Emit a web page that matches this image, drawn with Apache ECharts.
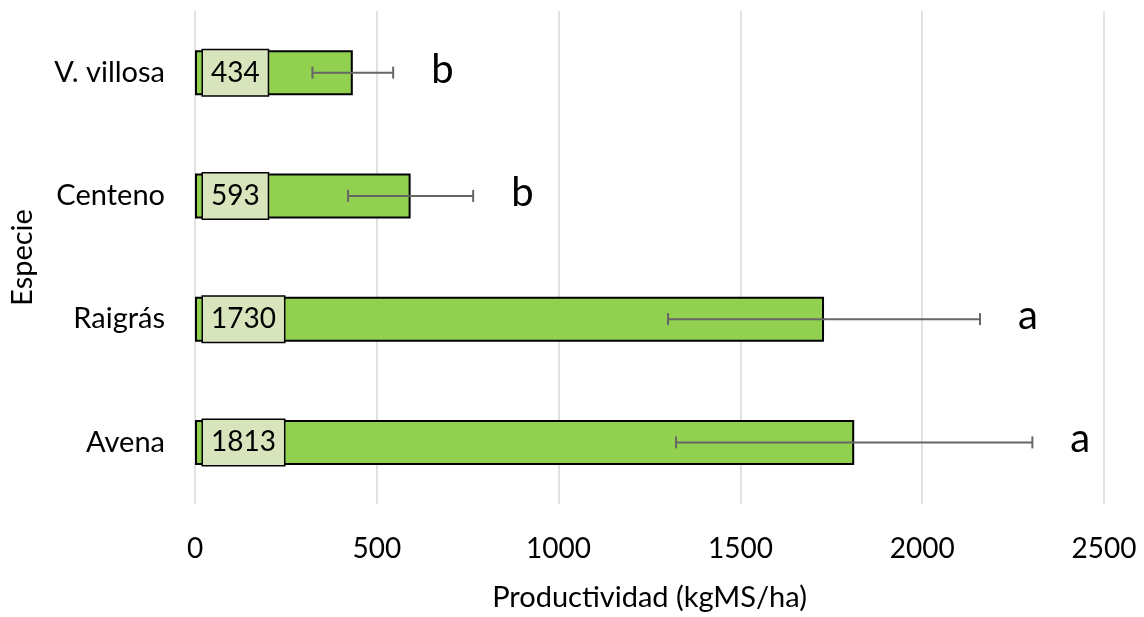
<!DOCTYPE html>
<html><head><meta charset="utf-8">
<script src="https://cdn.jsdelivr.net/npm/echarts@6/dist/echarts.min.js"></script>
<style>html,body{margin:0;padding:0;background:#fff}#c{width:1144px;height:617px}</style>
</head><body><div id="c"></div>
<script>
const categories = ['Avena', 'Raigrás', 'Centeno', 'V. villosa'];
const values = [1813, 1730, 593, 434];
const errors = [490, 429, 172, 111];
const letters = ['a', 'a', 'b', 'b'];
const xTicks = [0, 500, 1000, 1500, 2000, 2500];

const FONT = 'Lato';
const chart = echarts.init(document.getElementById('c'), null, {renderer: 'canvas'});
chart.setOption({
  animation: false,
  textStyle: {fontFamily: FONT},
  grid: {left: 192, right: 40, top: 11, bottom: 103, containLabel: false},
  xAxis: {
    type: 'value', min: xTicks[0], max: xTicks[xTicks.length - 1], interval: 500,
    name: 'Productividad (kgMS/ha)', nameLocation: 'middle', nameGap: 79,
    nameTextStyle: {fontSize: 29, color: '#000', fontFamily: FONT},
    axisLine: {show: false}, axisTick: {show: false},
    axisLabel: {fontSize: 28, color: '#000', margin: 31, fontFamily: FONT,
                formatter: function (v) { return String(v); }},
    splitLine: {show: true, lineStyle: {color: '#d9d9d9', width: 1.5}}
  },
  yAxis: {
    type: 'category', data: categories,
    name: 'Especie', nameLocation: 'middle', nameGap: 158,
    nameTextStyle: {fontSize: 29, color: '#000', fontFamily: FONT},
    axisLine: {show: false}, axisTick: {show: false},
    axisLabel: {fontSize: 29, color: '#000', margin: 30, fontFamily: FONT}
  },
  series: [
    {
      type: 'bar', data: values, barWidth: 45,
      itemStyle: {color: '#92D050', borderColor: '#000', borderWidth: 2},
      label: {
        show: true, position: 'insideLeft', distance: 8,
        fontSize: 28, color: '#000', fontFamily: FONT, lineHeight: 29,
        backgroundColor: '#D8E4BC', borderColor: '#000', borderWidth: 1.5,
        padding: [8, 8, 8, 8]
      },
      z: 2
    },
    {
      type: 'custom',
      data: values.map((v, i) => [i, v - errors[i], v + errors[i]]),
      renderItem: function (params, api) {
        const i = api.value(0);
        const lo = api.coord([api.value(1), i]);
        const hi = api.coord([api.value(2), i]);
        const y = lo[1], h = 6;
        const st = {stroke: '#666', lineWidth: 2};
        return {type: 'group', children: [
          {type: 'line', shape: {x1: lo[0], y1: y, x2: hi[0], y2: y}, style: st},
          {type: 'line', shape: {x1: lo[0], y1: y - h, x2: lo[0], y2: y + h}, style: st},
          {type: 'line', shape: {x1: hi[0], y1: y - h, x2: hi[0], y2: y + h}, style: st}
        ]};
      },
      z: 3
    },
    {
      type: 'custom',
      data: values.map((v, i) => [i, v + errors[i]]),
      renderItem: function (params, api) {
        const i = api.value(0);
        const p = api.coord([api.value(1), i]);
        return {type: 'text', x: p[0] + 38, y: p[1] - 3,
          style: {text: letters[params.dataIndex], fontSize: 40, fontFamily: FONT, fill: '#000',
                  verticalAlign: 'middle', align: 'left'}};
      },
      z: 4
    }
  ]
});
</script></body></html>
